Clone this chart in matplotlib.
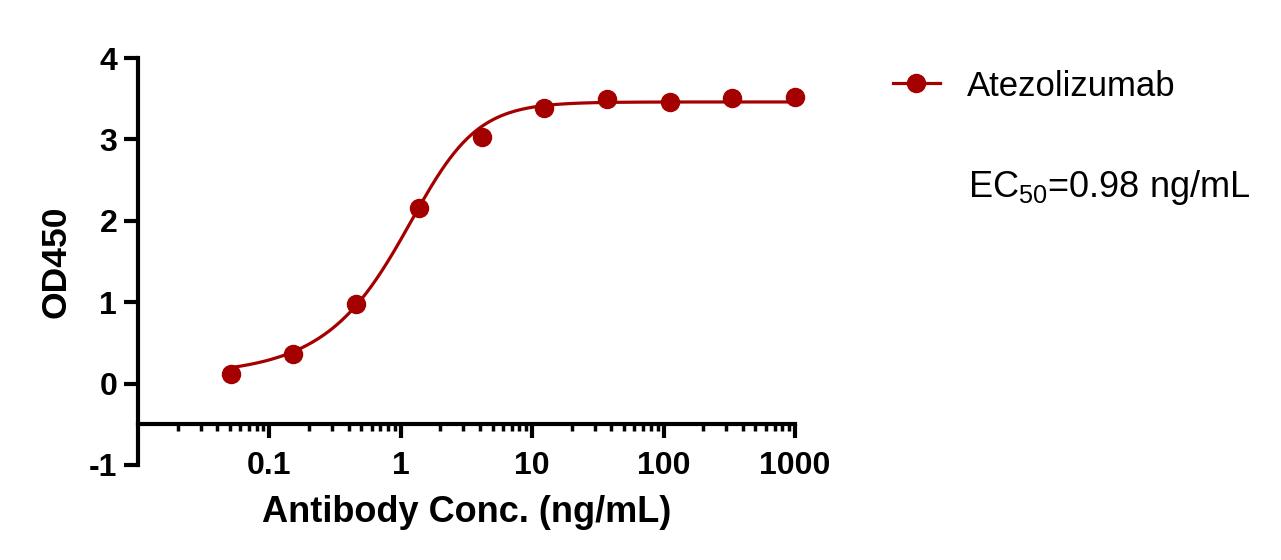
import numpy as np
import matplotlib
matplotlib.use("Agg")
import matplotlib.pyplot as plt
from matplotlib.ticker import LogLocator, FixedLocator, NullFormatter

plt.rcParams['font.family'] = ['Liberation Sans', 'DejaVu Sans']
plt.rcParams['mathtext.fontset'] = 'custom'
plt.rcParams['mathtext.rm'] = 'Liberation Sans'
plt.rcParams['mathtext.it'] = 'Liberation Sans:italic'

# data (3-fold dilution series)
conc = [0.0508, 0.152, 0.457, 1.37, 4.12, 12.3, 37.0, 111.1, 333.3, 1000.0]
od450 = [0.12, 0.36, 0.98, 2.16, 3.03, 3.39, 3.50, 3.46, 3.51, 3.52]
series_name = "Atezolizumab"
ec50_text = r'EC$_{50}$=0.98 ng/mL'

# 5PL fit parameters
bottom, top, mid, slope, asym = 0.10, 3.46, 1.664, 1.85, 0.55

color = "#A50000"

fig = plt.figure(figsize=(12.81, 5.6), dpi=100)
ax = fig.add_axes([138/1281, 1-465/560, (795-138)/1281, (465-58)/560])

xs = np.logspace(np.log10(conc[0]), np.log10(conc[-1]), 400)
ys = bottom + (top - bottom) / (1 + (mid / xs) ** slope) ** asym
ax.plot(xs, ys, color=color, lw=2.3, zorder=3)
ax.plot(conc, od450, 'o', color=color, ms=13, clip_on=False, zorder=4)

ax.set_xscale('log')
ax.set_xlim(0.01, 1000)
ax.set_ylim(-1, 4)

for s in ['top', 'right']:
    ax.spines[s].set_visible(False)
ax.spines['bottom'].set_position(('data', -0.5))
ax.spines['left'].set_linewidth(3)
ax.spines['bottom'].set_linewidth(3)

ax.xaxis.set_major_locator(FixedLocator([0.1, 1, 10, 100, 1000]))
ax.xaxis.set_minor_locator(LogLocator(base=10, subs=np.arange(2, 10), numticks=20))
ax.xaxis.set_minor_formatter(NullFormatter())
ax.set_xticklabels(['0.1', '1', '10', '100', '1000'])
ax.set_yticks([-1, 0, 1, 2, 3, 4])
ax.set_yticklabels(['-1', '0', '1', '2', '3', '4'])

ax.tick_params(axis='both', which='major', width=3, length=10, labelsize=23)
ax.tick_params(axis='x', which='major', pad=9)
ax.tick_params(axis='y', which='major', pad=5)
ax.tick_params(axis='x', which='minor', width=2.5, length=5)
for lab in ax.get_xticklabels() + ax.get_yticklabels():
    lab.set_fontweight('bold')

ax.set_xlabel('Antibody Conc. (ng/mL)', fontsize=26, fontweight='bold', labelpad=10)
ax.set_ylabel('OD450', fontsize=25.5, fontweight='bold', labelpad=12)

# legend
h, = ax.plot([], [], '-o', color=color, lw=2.3, ms=13)
fig.legend([h], [series_name], loc='center left', bbox_to_anchor=(893/1281, 1-86/560),
           frameon=False, fontsize=25, handlelength=1.35, handletextpad=0.78,
           borderpad=0, borderaxespad=0)

fig.text(968/1281, 1-188/560, ec50_text, fontsize=26, va='center', ha='left')

fig.savefig('out.png', dpi=100)
